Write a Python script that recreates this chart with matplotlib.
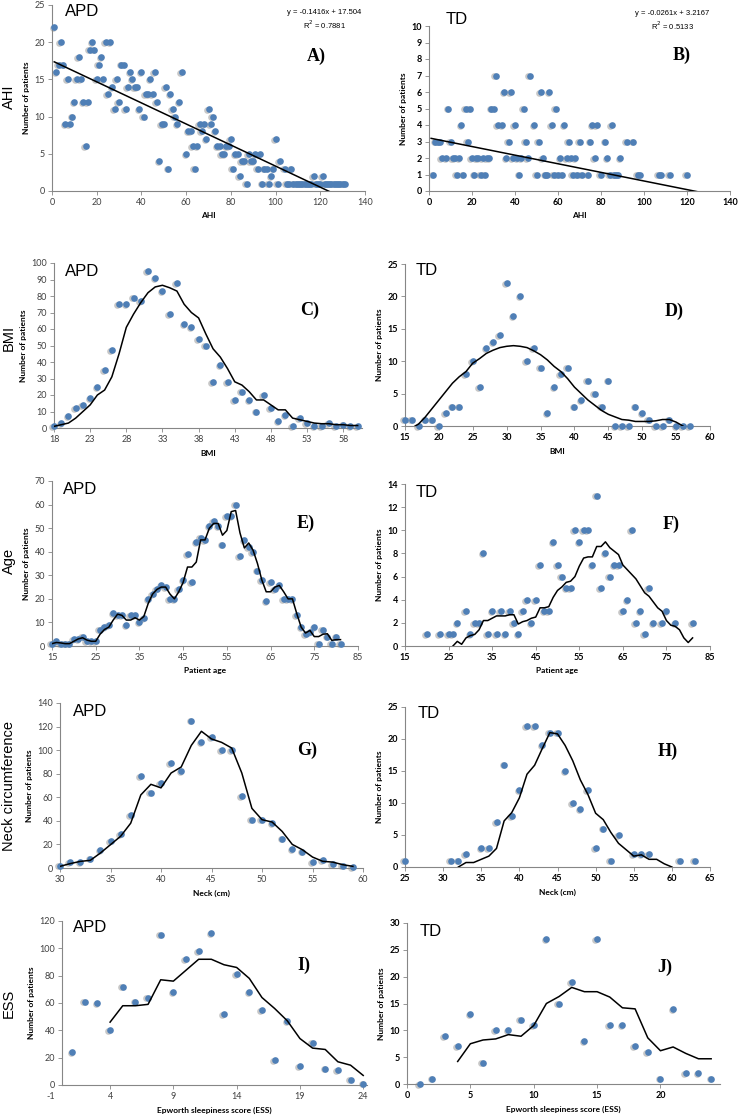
import numpy as np
import matplotlib
matplotlib.use('Agg')
import matplotlib.pyplot as plt
from matplotlib.transforms import offset_copy

W, H = 738, 1116

# ---- A) AHI, APD ----
apd_ahi_x = [1, 2, 3, 4, 5, 6, 7, 8, 9, 10, 11, 12, 13, 14, 15, 16, 17, 18, 19, 20,
             21, 22, 23, 24, 25, 26, 27, 28, 29, 30, 31, 32, 33, 34, 35, 36, 37, 38, 39, 40,
             41, 42, 43, 44, 45, 46, 47, 48, 49, 50, 51, 52, 53, 54, 55, 56, 57, 58, 60, 61,
             62, 63, 64, 65, 66, 67, 68, 69, 70, 71, 72, 73, 74, 75, 76, 77, 78, 79, 80, 81,
             82, 83, 84, 85, 86, 87, 88, 89, 90, 91, 92, 93, 94, 95, 96, 97, 98, 99, 100, 101,
             102, 104, 105, 106, 107, 108, 109, 110, 111, 112, 113, 114, 115, 116, 117, 118, 119, 120, 121, 122,
             123, 124, 125, 126, 127, 128, 129, 130, 131]
apd_ahi_y = [22, 16, 17, 20, 17, 9, 15, 9, 10, 12, 15, 18, 15, 12, 6, 12, 19, 20, 19, 15,
             17, 18, 15, 20, 13, 20, 14, 11, 15, 12, 17, 17, 11, 14, 16, 15, 14, 14, 11, 16,
             10, 13, 13, 15, 13, 16, 12, 4, 9, 9, 14, 3, 13, 11, 10, 9, 12, 16, 5, 8,
             8, 6, 3, 6, 9, 8, 9, 7, 11, 9, 10, 8, 6, 6, 5, 5, 6, 6, 7, 3,
             5, 5, 2, 4, 4, 1, 5, 4, 4, 5, 3, 5, 1, 3, 3, 1, 2, 3, 7, 1,
             4, 3, 1, 1, 3, 1, 1, 1, 1, 1, 1, 1, 1, 1, 2, 1, 1, 1, 2, 1,
             1, 1, 1, 1, 1, 1, 1, 1, 1]
apd_ahi_fit = [-0.1416, 17.504]

# ---- B) AHI, TD ----
td_ahi_x = [2, 3, 4, 5, 6, 8, 9, 10, 11, 12, 13, 14, 15, 16, 17, 18, 19, 20, 21, 22,
            23, 24, 25, 26, 27, 28, 29, 30, 31, 32, 34, 35, 36, 37, 38, 39, 40, 41, 42, 43,
            44, 45, 46, 47, 49, 50, 51, 52, 53, 54, 55, 56, 57, 58, 59, 60, 61, 62, 63, 64,
            65, 66, 67, 68, 69, 70, 71, 74, 75, 76, 77, 78, 80, 82, 83, 84, 85, 86, 87, 88,
            89, 92, 95, 97, 98, 107, 108, 112, 120]
td_ahi_y = [1, 3, 3, 3, 2, 2, 5, 3, 2, 2, 1, 2, 4, 1, 5, 3, 5, 2, 1, 2,
            2, 1, 2, 1, 2, 2, 5, 5, 7, 4, 4, 6, 2, 3, 6, 2, 4, 2, 1, 2,
            5, 3, 2, 7, 4, 1, 3, 6, 2, 1, 1, 6, 4, 1, 5, 1, 2, 1, 4, 2,
            3, 2, 1, 2, 1, 3, 1, 1, 3, 4, 2, 4, 1, 3, 2, 1, 4, 1, 1, 1,
            2, 3, 3, 1, 1, 1, 1, 1, 1]
td_ahi_fit = [-0.0261, 3.2167]

# ---- C) BMI, APD ----
apd_bmi_x = list(range(18, 61))
apd_bmi_y = [1, 3, 7, 12, 14, 18, 25, 35, 47, 75, 75, 79, 77, 95, 91, 83, 69, 88, 63, 61,
             54, 50, 28, 38, 28, 17, 22, 17, 10, 20, 12, 4, 8, 1, 6, 3, 1, 1, 3, 1,
             2, 1, 1]
apd_bmi_line = [1, 2, 3, 6, 10, 14, 20, 23, 31, 45, 61, 69, 76, 82, 85.5, 86.5, 85, 83, 75, 70,
                66.7, 57, 48, 43, 36, 28, 26, 22, 17, 17, 14, 11, 11, 6, 5, 4, 3, 2.6, 2.6, 2,
                2, 1.5, 1.5]

# ---- D) BMI, TD ----
td_bmi_x = list(range(15, 58))
td_bmi_y = [1, 1, 0, 1, 1, 0, 2, 3, 3, 8, 10, 6, 12, 13, 14, 22, 17, 20, 10, 12,
            9, 2, 6, 8, 9, 3, 4, 7, 5, 3, 7, 0, 0, 0, 3, 2, 1, 0, 0, 1,
            0, 0, 0]
td_bmi_line_x = [16.5] + list(range(17, 57))
td_bmi_line = [0, 0.3, 1.4, 2.7, 4.0, 5.3, 6.6, 7.6, 8.4, 9.7, 10.4, 11.2, 11.7, 12.1, 12.3, 12.4,
               12.3, 12.1, 11.6, 11.0, 10.2, 9.2, 8.4, 7.3, 6.0, 5.0, 4.0, 3.2, 2.4, 1.8,
               1.4, 1.0, 0.9, 0.7, 0.7, 0.7, 0.8, 1.0, 1.0, 0.6, 0]

# ---- E) Age, APD ----
apd_age_x = list(range(15, 82))
apd_age_y = [1, 2, 1, 1, 1, 3, 3, 4, 2, 2, 2, 7, 8, 9, 14, 13, 13, 9, 13, 13,
             10, 12, 20, 22, 24, 26, 25, 20, 20, 24, 28, 39, 27, 44, 46, 45, 51, 53, 51, 43,
             55, 55, 60, 38, 45, 42, 40, 32, 28, 19, 27, 24, 26, 20, 20, 20, 13, 8, 5, 6,
             8, 1, 7, 4, 1, 4, 1]
apd_age_line = [1, 1.5, 1.3, 1, 1, 2, 3, 3.5, 2.5, 2, 2, 5, 7, 8, 11, 13.5, 13, 11, 11, 12,
                11, 12.5, 18, 22, 24, 25, 25, 22, 20, 23, 27, 33.5, 33.5, 35.6, 45, 45, 50, 52, 52, 47,
                49, 57, 57.5, 48, 41.6, 43.7, 40.6, 35, 28, 23, 23, 25, 25.7, 23, 20, 20, 13.7, 8, 5.5, 6.6,
                4, 4, 5, 5.2, 2.4, 2.7, 2.7]

# ---- F) Age, TD ----
td_age_x = [20, 23, 25, 26, 27, 29, 30, 31, 32, 33, 34, 35, 36, 37, 38, 39, 40, 41, 42, 43,
            44, 45, 46, 47, 48, 49, 50, 51, 52, 53, 54, 55, 56, 57, 58, 59, 60, 61, 62, 63,
            64, 65, 66, 67, 68, 69, 70, 71, 72, 74, 75, 77, 81]
td_age_y = [1, 1, 1, 1, 2, 3, 1, 2, 2, 8, 1, 3, 1, 3, 1, 3, 2, 1, 3, 4,
            2, 4, 7, 3, 3, 9, 7, 6, 5, 5, 10, 9, 10, 10, 7, 13, 5, 8, 6, 7,
            7, 3, 4, 10, 2, 3, 1, 5, 2, 2, 3, 2, 2]
td_age_line_x = list(range(26, 82))
td_age_line = [0, 0.4, 0.15, 0.7, 0.9, 1.0, 1.4, 2.2, 2.2, 2.4, 2.6, 2.6, 2.6, 2.7, 2.7, 1.9,
               2.1, 2.2, 2.4, 2.5, 3.3, 3.3, 3.4, 4.2, 4.8, 5.1, 5.5, 5.6, 6.0, 6.9, 7.6,
               7.7, 7.7, 8.6, 8.6, 9.0, 8.5, 8.2, 7.9, 7.0, 6.6, 6.2, 5.8, 5.2, 4.6, 4.3,
               3.8, 3.3, 3.0, 2.2, 1.8, 1.7, 1.4, 0.7, 0.3, 0.7]

# ---- G) Neck, APD ----
apd_neck_x = list(range(30, 60))
apd_neck_y = [2, 5, 5, 8, 15, 23, 29, 45, 78, 64, 72, 89, 82, 125, 107, 111, 100, 100, 61, 41,
              41, 38, 25, 16, 14, 5, 7, 3, 2, 1]
apd_neck_line = [1.4, 3.7, 5.6, 6.5, 12.7, 19.8, 26.9, 38, 62, 71, 68, 80.6, 85.7, 104, 116, 109.5,
                 106.6, 101.8, 80.6, 50.6, 41, 39, 31, 20, 15.5, 9.3, 5.7, 5, 2.8, 1.4]

# ---- H) Neck, TD ----
td_neck_x = [25, 31, 32, 33, 35, 36, 37, 38, 39, 40, 41, 42, 43, 44, 45, 46, 47, 48, 49, 50,
             51, 52, 53, 55, 56, 57, 61, 63]
td_neck_y = [1, 1, 1, 2, 3, 3, 7, 16, 8, 12, 22, 22, 19, 21, 21, 15, 10, 9, 12, 3,
             6, 1, 5, 2, 2, 2, 1, 1]
td_neck_line_x = list(range(32, 61))
td_neck_line = [0, 0.7, 0.7, 1.2, 1.7, 2.9, 7.2, 8.5, 10.8, 14.5, 15.9, 18.5, 21, 20.8, 19,
                16.6, 13.6, 11.3, 8.4, 7.4, 5.4, 3.7, 2.7, 1.7, 1.9, 1.2, 1.2, 0.5, 0]

# ---- I) ESS, APD ----
apd_ess_x = list(range(1, 25))
apd_ess_y = [24, 61, 60, 40, 72, 61, 64, 110, 68, 92, 98, 111, 52, 81, 68, 55, 18, 47, 14, 31,
             12, 11, 4, 1]
apd_ess_line_x = list(range(4, 25))
apd_ess_line = [46, 58, 58, 59, 77, 76, 84, 92, 92, 88, 86, 78, 64, 56, 47, 34, 27, 26, 17, 14.5, 7]

# ---- J) ESS, TD ----
td_ess_x = list(range(1, 25))
td_ess_y = [0, 1, 9, 7, 13, 4, 10, 10, 12, 11, 27, 15, 19, 8, 27, 11, 11, 7, 6, 1,
            14, 2, 2, 1]
td_ess_line_x = list(range(4, 25))
td_ess_line = [4.2, 7.5, 8.2, 8.4, 9.2, 8.9, 10.9, 15, 16.3, 18, 17.2, 17.2, 16.2, 14.2, 14,
               8.6, 6.2, 6.9, 5.7, 4.7, 4.7]

row_labels = ['AHI', 'BMI', 'Age', 'Neck circumference', 'ESS']
xlabels = ['AHI', 'BMI', 'Patient age', 'Neck (cm)', 'Epworth sleepiness score (ESS)']

plt.rcParams['font.family'] = ['Lato', 'DejaVu Sans']

fig = plt.figure(figsize=(W / 100, H / 100), dpi=100)

def px_axes(l, t, r, b):
    return fig.add_axes([l / W, 1 - b / H, (r - l) / W, (b - t) / H])

def style(ax, td):
    for s in ['top', 'right']:
        ax.spines[s].set_visible(False)
    for s in ['left', 'bottom']:
        ax.spines[s].set_color('#868686')
        ax.spines[s].set_linewidth(0.8)
    ax.tick_params(length=3, width=0.6, color='#868686', labelsize=6.5, pad=2,
                   labelcolor='black' if td else '#404040')
    if td:
        for lab in ax.get_xticklabels() + ax.get_yticklabels():
            lab.set_fontweight('bold')
    ax.set_ylabel('Number of patients', fontsize=6, fontweight='bold', labelpad=3)

def dots(ax, x, y):
    sh = offset_copy(ax.transData, fig=fig, x=-1.6, y=-0.8, units='dots')
    ax.plot(x, y, 'o', ms=4.8, color='#bdbdbd', mec='none', alpha=0.85,
            transform=sh, clip_on=False, zorder=2)
    ax.plot(x, y, 'o', ms=4.8, color='#4F7FB6', mec='none', clip_on=False, zorder=3)

def line(ax, x, y):
    ax.plot(x, y, color='black', lw=1.1, zorder=4)

# axes positions in pixels (left, top, right, bottom)
axA = px_axes(52, 5, 365, 191)
axB = px_axes(429, 26, 730, 191)
axC = px_axes(54, 263, 362, 428)
axD = px_axes(405, 264, 710, 426)
axE = px_axes(52, 481, 358, 646)
axF = px_axes(405, 484, 710, 646)
axG = px_axes(60, 703, 363, 868)
axH = px_axes(405, 707, 710, 867)
axI = px_axes(62, 921, 367, 1085)
axJ = px_axes(407, 923, 720, 1084)

# A
dots(axA, apd_ahi_x, apd_ahi_y)
xa = np.array([min(apd_ahi_x), max(apd_ahi_x)])
line(axA, xa, np.polyval(apd_ahi_fit, xa))
axA.set_xlim(0, 140); axA.set_ylim(0, 25)
axA.set_xticks(range(0, 141, 20)); axA.set_yticks(range(0, 26, 5))

# B
dots(axB, td_ahi_x, td_ahi_y)
xb = np.array([1, 125])
line(axB, xb, np.polyval(td_ahi_fit, xb))
axB.set_xlim(0, 140); axB.set_ylim(0, 10)
axB.set_xticks(range(0, 141, 20)); axB.set_yticks(range(0, 11))

# C
dots(axC, apd_bmi_x, apd_bmi_y)
line(axC, apd_bmi_x, apd_bmi_line)
axC.set_xlim(18, 60.6); axC.set_ylim(0, 100)
axC.set_xticks(range(18, 59, 5)); axC.set_yticks(range(0, 101, 10))

# D
dots(axD, td_bmi_x, td_bmi_y)
line(axD, td_bmi_line_x, td_bmi_line)
axD.set_xlim(15, 60); axD.set_ylim(0, 25)
axD.set_xticks(range(15, 61, 5)); axD.set_yticks(range(0, 26, 5))

# E
dots(axE, apd_age_x, apd_age_y)
line(axE, apd_age_x, apd_age_line)
axE.set_xlim(15, 85); axE.set_ylim(0, 70)
axE.set_xticks(range(15, 86, 10)); axE.set_yticks(range(0, 71, 10))

# F
dots(axF, td_age_x, td_age_y)
line(axF, td_age_line_x, td_age_line)
axF.set_xlim(15, 85); axF.set_ylim(0, 14)
axF.set_xticks(range(15, 86, 10)); axF.set_yticks(range(0, 15, 2))

# G
dots(axG, apd_neck_x, apd_neck_y)
line(axG, apd_neck_x, apd_neck_line)
axG.set_xlim(30, 60); axG.set_ylim(0, 140)
axG.set_xticks(range(30, 61, 5)); axG.set_yticks(range(0, 141, 20))

# H
dots(axH, td_neck_x, td_neck_y)
line(axH, td_neck_line_x, td_neck_line)
axH.set_xlim(25, 65); axH.set_ylim(0, 25)
axH.set_xticks(range(25, 66, 5)); axH.set_yticks(range(0, 26, 5))

# I
dots(axI, apd_ess_x, apd_ess_y)
line(axI, apd_ess_line_x, apd_ess_line)
axI.set_xlim(0.2, 24.3); axI.set_ylim(0, 120)
axI.set_xticks(range(4, 25, 5)); axI.set_yticks(range(0, 121, 20))
axI.text(-0.7, -0.045, '-1', transform=axI.get_xaxis_transform(), ha='center', va='top',
         fontsize=6.5, color='#404040', clip_on=False)

# J
dots(axJ, td_ess_x, td_ess_y)
line(axJ, td_ess_line_x, td_ess_line)
axJ.set_xlim(0, 24.7); axJ.set_ylim(0, 30)
axJ.set_xticks(range(0, 21, 5)); axJ.set_yticks(range(0, 31, 5))

pairs = [(axA, axB), (axC, axD), (axE, axF), (axG, axH), (axI, axJ)]
for i, (a, b) in enumerate(pairs):
    style(a, False); style(b, True)
    a.set_xlabel(xlabels[i], fontsize=6, fontweight='bold', labelpad=4)
    b.set_xlabel(xlabels[i], fontsize=6, fontweight='bold', labelpad=4)

def ftext(x, y, s, **kw):
    fig.text(x / W, 1 - y / H, s, **kw)

# group names
for x, y, s in [(65, 12, 'APD'), (446, 20, 'TD'), (65, 272, 'APD'), (416, 271, 'TD'),
                (63, 489, 'APD'), (416, 492, 'TD'), (73, 711, 'APD'), (418, 714, 'TD'),
                (73, 928, 'APD'), (420, 931, 'TD')]:
    ftext(x, y, s, fontsize=12, family='Liberation Sans', va='center', ha='left')

# panel letters
for x, y, s in [(307, 56, 'A)'), (673, 55, 'B)'), (300, 310, 'C)'), (665, 311, 'D)'),
                (297, 523, 'E)'), (663, 524, 'F)'), (297, 750, 'G)'), (658, 751, 'H)'),
                (297, 965, 'I)'), (657, 967, 'J)')]:
    ftext(x, y, s, fontsize=13, family='Liberation Serif', fontweight='bold',
          va='center', ha='left')

# row labels
for y, s in zip([97, 338, 561, 786, 1003], row_labels):
    ftext(9, y, s, fontsize=10.5, family='Liberation Sans', rotation=90,
          va='center', ha='center')

# trendline equations
ftext(324, 20, 'y = -0.1416x + 17.504\nR$^2$ = 0.7881', fontsize=5.5,
      family='Liberation Sans', ha='center', va='center', linespacing=1.3)
ftext(672, 21, 'y = -0.0261x + 3.2167\nR$^2$ = 0.5133', fontsize=5.5,
      family='Liberation Sans', ha='center', va='center', linespacing=1.3)

fig.savefig('out.png', dpi=100)
